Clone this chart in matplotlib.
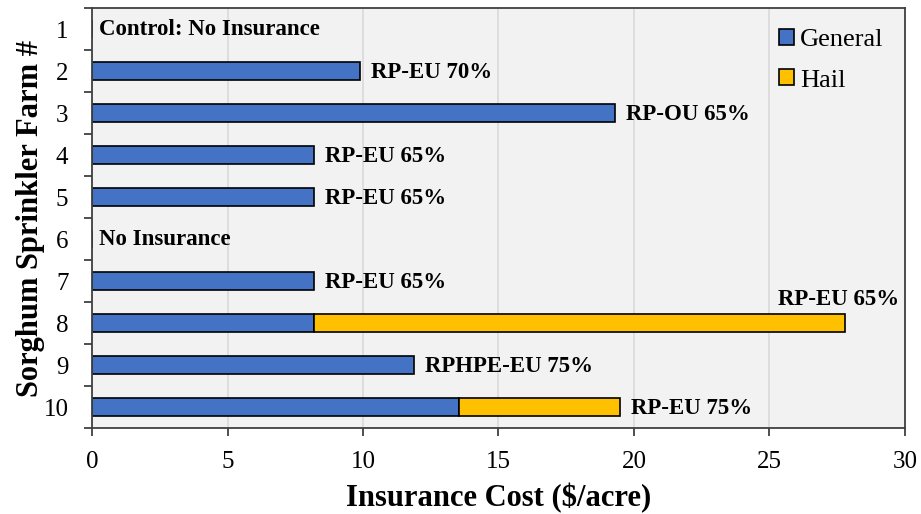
import numpy as np
import matplotlib
matplotlib.use("Agg")
from matplotlib import pyplot as plt

plt.rcParams["font.family"] = ["Liberation Serif", "DejaVu Serif"]

farms = [1, 2, 3, 4, 5, 6, 7, 8, 9, 10]
general = [0, 9.9, 19.3, 8.2, 8.2, 0, 8.2, 8.2, 11.9, 13.55]
hail = [0, 0, 0, 0, 0, 0, 0, 19.6, 0, 5.95]
policy = ["Control: No Insurance", "RP-EU 70%", "RP-OU 65%", "RP-EU 65%", "RP-EU 65%",
          "No Insurance", "RP-EU 65%", "RP-EU 65%", "RPHPE-EU 75%", "RP-EU 75%"]

BLUE = "#4472C4"
GOLD = "#FFC000"

fig = plt.figure(figsize=(9.21, 5.14), dpi=100)
ax = fig.add_axes([0.0999, 0.1673, 0.8827, 0.8171])
ax.set_facecolor("#F2F2F2")

y = np.array(farms)
h = 0.42
ax.barh(y, general, height=h, color=BLUE, edgecolor="black", linewidth=1.2, label="General")
hail_arr = np.array(hail)
mask = hail_arr > 0
ax.barh(y[mask], hail_arr[mask], left=np.array(general)[mask], height=h,
        color=GOLD, edgecolor="black", linewidth=1.2, label="Hail")

ax.set_xlim(0, 30)
ax.set_ylim(10.5, 0.5)
ax.set_xticks(np.arange(0, 31, 5))
ax.set_yticks(y)
ax.set_yticks(np.arange(0.5, 11, 1), minor=True)
ax.tick_params(axis="y", which="major", length=0, labelsize=18, pad=17)
ax.tick_params(axis="y", which="minor", length=5.5, width=1.3, color="#404040")
ax.tick_params(axis="x", which="major", length=5.5, width=1.3, color="#404040", labelsize=18, pad=11)
ax.xaxis.grid(True, color="#D9D9D9", linewidth=1.2)
ax.set_axisbelow(True)
for s in ax.spines.values():
    s.set_color("#404040")
    s.set_linewidth(1.3)

ax.set_xlabel("Insurance Cost ($/acre)", fontsize=22, fontweight="bold", labelpad=7)
ax.set_ylabel("Sorghum Sprinkler Farm #", fontsize=22, fontweight="bold", labelpad=-1)

for f, g, hl, txt in zip(farms, general, hail, policy):
    total = g + hl
    if total == 0:
        ax.text(0.25, f, txt, fontsize=16.5, fontweight="bold", va="center", ha="left")
    elif f == 8:
        ax.text(total + 2.0, f - 0.57, txt, fontsize=16.5, fontweight="bold", va="center", ha="right")
    else:
        ax.text(total + 0.4, f + 0.03, txt, fontsize=16.5, fontweight="bold", va="center", ha="left")

leg = ax.legend(loc="upper right", frameon=False, fontsize=19, handlelength=0.55,
                handleheight=0.55, handletextpad=0.25, labelspacing=0.68,
                bbox_to_anchor=(1.0, 1.0), borderaxespad=0.4)

fig.savefig("out.png", dpi=100)
